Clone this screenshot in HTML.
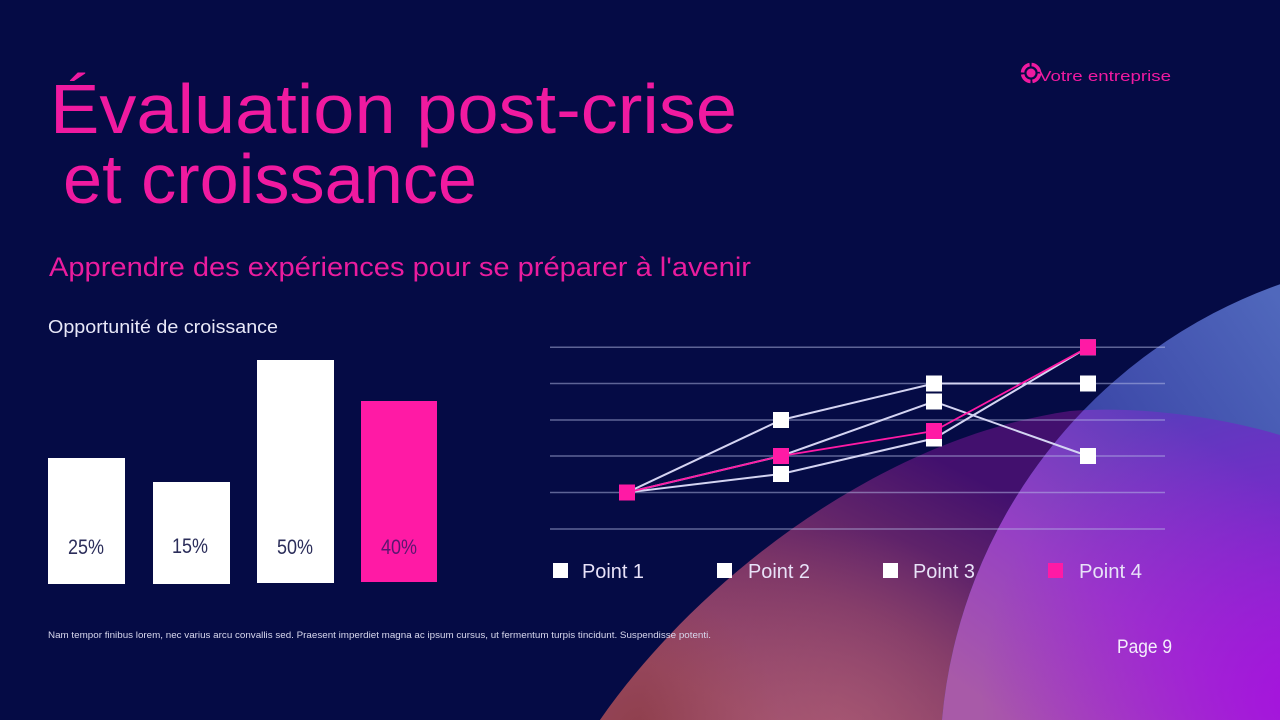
<!DOCTYPE html>
<html>
<head>
<meta charset="utf-8">
<style>
html,body{margin:0;padding:0;background:#050b45;width:1280px;height:720px;overflow:hidden;}
svg{display:block;}
text{font-family:"Liberation Sans",sans-serif;}
</style>
</head>
<body>
<svg width="1280" height="720" viewBox="0 0 1280 720" xmlns="http://www.w3.org/2000/svg">
<defs>
  <linearGradient id="gA" gradientUnits="userSpaceOnUse" x1="900" y1="440" x2="760" y2="720">
    <stop offset="0" stop-color="#42106e"/>
    <stop offset="0.55" stop-color="#7a3466"/>
    <stop offset="1" stop-color="#9c4c6a"/>
  </linearGradient>
  <radialGradient id="gA2" gradientUnits="userSpaceOnUse" cx="640" cy="730" r="140">
    <stop offset="0" stop-color="#8a3a40" stop-opacity="0.7"/>
    <stop offset="1" stop-color="#8a3a40" stop-opacity="0"/>
  </radialGradient>
  <radialGradient id="gA3" gradientUnits="userSpaceOnUse" cx="840" cy="730" r="200">
    <stop offset="0" stop-color="#b06078" stop-opacity="0.6"/>
    <stop offset="1" stop-color="#b06078" stop-opacity="0"/>
  </radialGradient>
  <linearGradient id="gB" gradientUnits="userSpaceOnUse" x1="1080" y1="440" x2="1280" y2="300">
    <stop offset="0" stop-color="#3a44a6"/>
    <stop offset="1" stop-color="#5068bc"/>
  </linearGradient>
  <linearGradient id="gAB" gradientUnits="userSpaceOnUse" x1="980" y1="700" x2="1180" y2="420">
    <stop offset="0" stop-color="#a85aa8"/>
    <stop offset="0.45" stop-color="#9640c4"/>
    <stop offset="1" stop-color="#5a3cbc"/>
  </linearGradient>
  <radialGradient id="gAB2" gradientUnits="userSpaceOnUse" cx="1300" cy="700" r="320">
    <stop offset="0" stop-color="#a80ee0" stop-opacity="0.9"/>
    <stop offset="1" stop-color="#a80ee0" stop-opacity="0"/>
  </radialGradient>
  <clipPath id="clipA">
    <path d="M600,720 C690,590 870,440 1070,411 C1150,405 1230,420 1280,435 L1280,720 Z"/>
  </clipPath>
</defs>

<rect x="0" y="0" width="1280" height="720" fill="#050b45"/>

<!-- background shapes -->
<path d="M600,720 C690,590 870,440 1070,411 C1150,405 1230,420 1280,435 L1280,720 Z" fill="url(#gA)"/>
<path d="M600,720 C690,590 870,440 1070,411 C1150,405 1230,420 1280,435 L1280,720 Z" fill="url(#gA2)"/>
<path d="M600,720 C690,590 870,440 1070,411 C1150,405 1230,420 1280,435 L1280,720 Z" fill="url(#gA3)"/>
<path d="M942,720 A510,510 0 0 1 1280,284.2 L1280,720 Z" fill="url(#gB)"/>
<g clip-path="url(#clipA)">
  <path d="M942,720 A510,510 0 0 1 1280,284.2 L1280,720 Z" fill="url(#gAB)"/>
  <path d="M942,720 A510,510 0 0 1 1280,284.2 L1280,720 Z" fill="url(#gAB2)"/>
</g>

<!-- logo -->
<circle cx="1031" cy="73" r="8.5" fill="none" stroke="#f01aa0" stroke-width="3.5" stroke-dasharray="11.3 2" stroke-dashoffset="-0.5"/>
<circle cx="1031" cy="73" r="4.5" fill="#f01aa0"/>
<text x="1039" y="81" font-size="15" fill="#f01aa0" textLength="132" lengthAdjust="spacingAndGlyphs">Votre entreprise</text>

<!-- title -->
<text x="50" y="133" font-size="70" fill="#f01aa0" textLength="687" lengthAdjust="spacingAndGlyphs">Évaluation post-crise</text>
<text x="63" y="203" font-size="70" fill="#f01aa0" textLength="414" lengthAdjust="spacingAndGlyphs">et croissance</text>
<text x="49" y="276" font-size="27" fill="#ea1c9e" textLength="702" lengthAdjust="spacingAndGlyphs">Apprendre des expériences pour se préparer à l'avenir</text>

<!-- bar chart -->
<text x="48" y="333" font-size="18" fill="#e8e8f8" textLength="230" lengthAdjust="spacingAndGlyphs">Opportunité de croissance</text>
<rect x="48" y="458" width="77" height="126" fill="#ffffff"/>
<rect x="153" y="482" width="77" height="102" fill="#ffffff"/>
<rect x="257" y="360" width="77" height="223" fill="#ffffff"/>
<rect x="361" y="401" width="76" height="181" fill="#ff1aa5"/>
<text x="86" y="554" font-size="21" fill="#2b2d5a" text-anchor="middle" textLength="36" lengthAdjust="spacingAndGlyphs">25%</text>
<text x="190" y="553" font-size="21" fill="#2b2d5a" text-anchor="middle" textLength="36" lengthAdjust="spacingAndGlyphs">15%</text>
<text x="295" y="554" font-size="21" fill="#2b2d5a" text-anchor="middle" textLength="36" lengthAdjust="spacingAndGlyphs">50%</text>
<text x="399" y="554" font-size="21" fill="#5c1670" text-anchor="middle" textLength="36" lengthAdjust="spacingAndGlyphs">40%</text>

<!-- line chart grid -->
<g stroke="#b8bde8" stroke-opacity="0.5" stroke-width="1.5">
  <line x1="550" y1="347.3" x2="1165" y2="347.3"/>
  <line x1="550" y1="383.5" x2="1165" y2="383.5"/>
  <line x1="550" y1="420" x2="1165" y2="420"/>
  <line x1="550" y1="456" x2="1165" y2="456"/>
  <line x1="550" y1="492.5" x2="1165" y2="492.5"/>
  <line x1="550" y1="529" x2="1165" y2="529"/>
</g>

<!-- series lines -->
<g fill="none" stroke="#d4d4f2" stroke-width="2">
  <polyline points="627,492.5 781,420 934,383.5 1088,383.5"/>
  <polyline points="627,492.5 781,456 934,401.5 1088,456"/>
  <polyline points="627,492.5 781,474 934,438.5 1088,347.3"/>
</g>
<g fill="#ffffff">
  <rect x="773" y="412" width="16" height="16"/>
  <rect x="926" y="375.5" width="16" height="16"/>
  <rect x="1080" y="375.5" width="16" height="16"/>
  <rect x="773" y="448" width="16" height="16"/>
  <rect x="926" y="393.5" width="16" height="16"/>
  <rect x="1080" y="448" width="16" height="16"/>
  <rect x="773" y="466" width="16" height="16"/>
  <rect x="926" y="430.5" width="16" height="16"/>
  <rect x="1080" y="339.3" width="16" height="16"/>
  <rect x="619" y="484.5" width="16" height="16"/>
</g>
<polyline points="627,492.5 781,456 934,431 1088,347.3" fill="none" stroke="#ff1aa5" stroke-width="1.8"/>
<g fill="#ff1aa5">
  <rect x="619" y="484.5" width="16" height="16"/>
  <rect x="773" y="448" width="16" height="16"/>
  <rect x="926" y="423" width="16" height="16"/>
  <rect x="1080" y="339.3" width="16" height="16"/>
</g>

<!-- legend -->
<rect x="553" y="563" width="15" height="15" fill="#ffffff"/>
<text x="582" y="578" font-size="20" fill="#e8e2f8" textLength="62" lengthAdjust="spacingAndGlyphs">Point 1</text>
<rect x="717" y="563" width="15" height="15" fill="#ffffff"/>
<text x="748" y="578" font-size="20" fill="#e8e2f8" textLength="62" lengthAdjust="spacingAndGlyphs">Point 2</text>
<rect x="883" y="563" width="15" height="15" fill="#ffffff"/>
<text x="913" y="578" font-size="20" fill="#e8e2f8" textLength="62" lengthAdjust="spacingAndGlyphs">Point 3</text>
<rect x="1048" y="563" width="15" height="15" fill="#ff1aa5"/>
<text x="1079" y="578" font-size="20" fill="#e8e2f8" textLength="63" lengthAdjust="spacingAndGlyphs">Point 4</text>

<!-- footer -->
<text x="48" y="638" font-size="9" fill="#d8d8ee" textLength="663" lengthAdjust="spacingAndGlyphs">Nam tempor finibus lorem, nec varius arcu convallis sed. Praesent imperdiet magna ac ipsum cursus, ut fermentum turpis tincidunt. Suspendisse potenti.</text>
<text x="1117" y="653" font-size="19" fill="#f4eefc" textLength="55" lengthAdjust="spacingAndGlyphs">Page 9</text>
</svg>
</body>
</html>
